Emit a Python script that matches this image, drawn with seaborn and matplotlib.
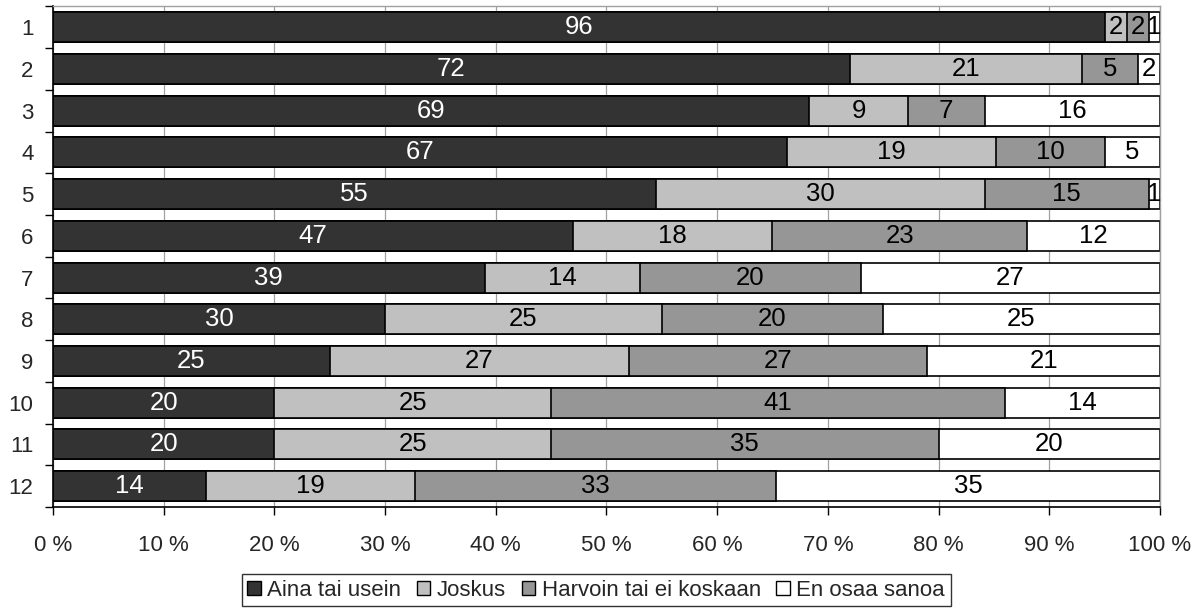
import matplotlib
matplotlib.use("Agg")
import matplotlib.pyplot as plt
from matplotlib.patches import Patch
import numpy as np
import pandas as pd
import seaborn as sns

# data
rows = ["1", "2", "3", "4", "5", "6", "7", "8", "9", "10", "11", "12"]
aina = [96, 72, 69, 67, 55, 47, 39, 30, 25, 20, 20, 14]
joskus = [2, 21, 9, 19, 30, 18, 14, 25, 27, 25, 25, 19]
harvoin = [2, 5, 7, 10, 15, 23, 20, 20, 27, 41, 35, 33]
en_osaa = [1, 2, 16, 5, 1, 12, 27, 25, 21, 14, 20, 35]
series_names = ["Aina tai usein", "Joskus", "Harvoin tai ei koskaan", "En osaa sanoa"]
x_ticks = [0, 10, 20, 30, 40, 50, 60, 70, 80, 90, 100]

colors = ["#333333", "#c0c0c0", "#969696", "#ffffff"]
text_colors = ["white", "black", "black", "black"]

sns.set_theme(style="white")
plt.rcParams["font.family"] = ["Liberation Sans", "DejaVu Sans"]

raw = np.array([aina, joskus, harvoin, en_osaa], dtype=float).T
pct = raw / raw.sum(axis=1, keepdims=True) * 100
cum = np.cumsum(pct, axis=1)

df = pd.DataFrame({"rivi": rows})
for i, name in enumerate(series_names):
    df[name] = cum[:, i]

fig = plt.figure(figsize=(12.02, 6.16), dpi=100)
ax = fig.add_axes([0.044, 0.177, 0.921, 0.8125])

# gridlines under the bars
for t in x_ticks:
    ax.axvline(t, color="#a0a0a0", lw=0.9, zorder=0)

# stacked by overlapping cumulative bars, widest first
for i in reversed(range(4)):
    sns.barplot(data=df, y="rivi", x=series_names[i], order=rows, orient="h",
                color=colors[i], saturation=1, edgecolor="black", linewidth=1.2,
                width=0.72, ax=ax, zorder=2)

# segment labels
for r in range(len(rows)):
    left = 0
    for i in range(4):
        mid = left + pct[r, i] / 2
        ax.text(mid, r, f"{int(raw[r, i])}", ha="center", va="center",
                fontsize=18.5, color=text_colors[i], zorder=5)
        left += pct[r, i]

ax.set_xlim(0, 100)
ax.set_ylim(len(rows) - 0.5, -0.5)
ax.set_xlabel("")
ax.set_ylabel("")
ax.set_xticks(x_ticks)
ax.set_xticklabels([f"{t} %" for t in x_ticks], fontsize=16)
ax.tick_params(axis="x", length=6, width=1, color="black", pad=14, direction="out", bottom=True)
ax.set_yticks(range(len(rows)))
ax.set_yticklabels(rows, fontsize=16)
ax.tick_params(axis="y", which="major", length=0, pad=14)
ax.set_yticks(np.arange(-0.5, len(rows), 1), minor=True)
ax.tick_params(axis="y", which="minor", length=6, width=1, color="black", left=True, direction="out")

for side in ["left", "bottom"]:
    ax.spines[side].set_color("black")
    ax.spines[side].set_linewidth(1.2)
for side in ["top", "right"]:
    ax.spines[side].set_color("#a0a0a0")
    ax.spines[side].set_linewidth(1)

handles = [Patch(facecolor=c, edgecolor="black", linewidth=1) for c in colors]
leg = fig.legend(handles, series_names, loc="center", bbox_to_anchor=(0.496, 0.042), ncol=4,
                 fontsize=16, frameon=True, fancybox=False, edgecolor="black",
                 handlelength=0.6, handleheight=0.6, handletextpad=0.3, columnspacing=0.7,
                 borderpad=0.25, borderaxespad=0)
leg.get_frame().set_linewidth(1)

fig.savefig("out.png", dpi=100)
